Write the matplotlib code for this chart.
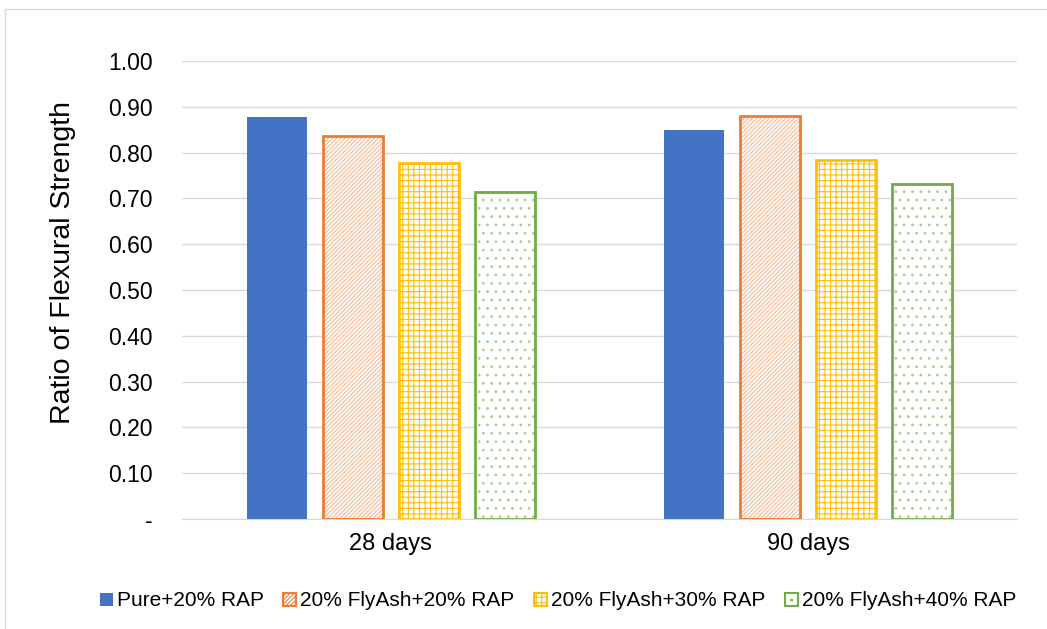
import numpy as np
import matplotlib.pyplot as plt
from matplotlib.patches import Rectangle

plt.rcParams['font.family'] = ['Liberation Sans', 'DejaVu Sans']
plt.rcParams['hatch.linewidth'] = 0.8

# data
categories = ['28 days', '90 days']
series = ['Pure+20% RAP', '20% FlyAsh+20% RAP', '20% FlyAsh+30% RAP', '20% FlyAsh+40% RAP']
values = [
    [0.878, 0.849],
    [0.836, 0.880],
    [0.777, 0.784],
    [0.714, 0.731],
]
colors = ['#4472c4', '#ed7d31', '#ffc000', '#70ad47']
hatch_colors = [None, '#f6b88f', '#ffc000', '#a9d18e']
hatches = [None, '////////', '+++', '..']
yticks = np.arange(0, 1.01, 0.1)
ytick_labels = ['-'] + ['%.2f' % v for v in yticks[1:]]

fig = plt.figure(figsize=(10.47, 6.29), dpi=100)
ax = fig.add_axes([182 / 1047, 1 - 519 / 629, 835 / 1047, 458 / 629])

# outer chart border (runs off the right/bottom edge in the reference)
fig.patches.append(Rectangle((5 / 1047, -0.05), 1.1, 1 - 9 / 629 + 0.05,
                             transform=fig.transFigure, fill=False,
                             edgecolor='#d9d9d9', linewidth=1))

x = np.arange(len(categories))
width = 0.144
step = 0.182
handles = []
for i, name in enumerate(series):
    pos = x + (i - 1.5) * step
    if hatches[i] is None:
        b = ax.bar(pos, values[i], width, color=colors[i], label=name, zorder=3)
        handles.append(b)
    else:
        ax.bar(pos, values[i], width, color='white', edgecolor=hatch_colors[i],
               hatch=hatches[i], linewidth=0, zorder=3)
        ax.bar(pos, values[i], width, fill=False, edgecolor=colors[i],
               linewidth=2, zorder=4)
        h = Rectangle((0, 0), 1, 1, facecolor='white', edgecolor=colors[i],
                      hatch=hatches[i], linewidth=1.5, label=name)
        handles.append(h)

ax.set_xlim(-0.5, 1.5)
ax.set_ylim(0, 1.0)
ax.set_yticks(yticks)
ax.set_yticklabels(ytick_labels, fontsize=16.5)
ax.set_xticks(x)
ax.set_xticklabels(categories, fontsize=17)
ax.tick_params(axis='y', length=0, pad=21, colors='#000000')
ax.tick_params(axis='x', length=0, pad=10, colors='#000000')
ax.grid(axis='y', color='#d9d9d9', linewidth=1, zorder=0)
for s in ['top', 'right', 'left']:
    ax.spines[s].set_visible(False)
ax.spines['bottom'].set_color('#d9d9d9')
ax.set_ylabel('Ratio of Flexural Strength', fontsize=20.5)
ax.yaxis.set_label_coords((76 - 182) / 835, (519 - 262) / 458)

fig.legend(handles=handles, labels=series, loc='center', ncol=4,
           bbox_to_anchor=(0.533, 1 - 601 / 629), frameon=False, fontsize=15,
           handlelength=0.6, handleheight=0.6, handletextpad=0.2,
           columnspacing=0.95)

fig.savefig('out.png', dpi=100)
